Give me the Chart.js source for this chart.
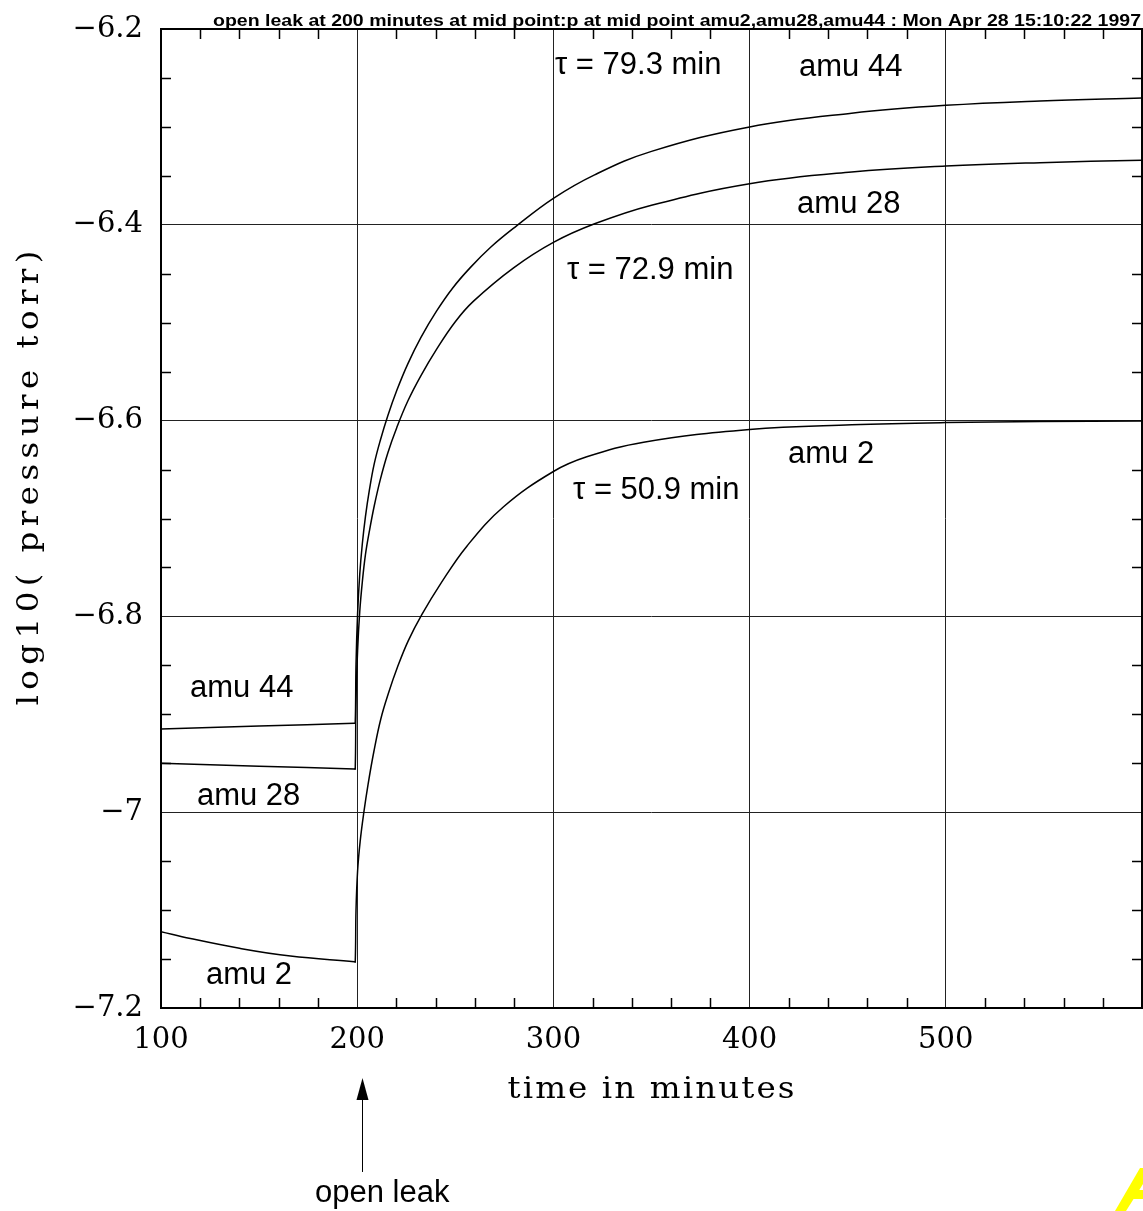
<!DOCTYPE html>
<html>
<head>
<meta charset="utf-8">
<title>open leak at 200 minutes</title>
<script src="https://cdn.jsdelivr.net/npm/chart.js@4.4.1/dist/chart.umd.min.js"></script>
<style>
  html, body { margin: 0; padding: 0; background: #fff; }
  canvas { display: block; }
</style>
</head>
<body>
<canvas id="leakChart" width="1143" height="1211"></canvas>
<script>
// log10(pressure / torr) against time, one pair of arrays per mass
const amu44Time = [100, 150, 198.5, 199, 199.4, 200.2, 201.3, 202.6, 204.2, 206.2, 208.7, 211.8, 215.6, 220.2, 225.8, 232.5, 240.5, 248.5, 257.5, 268, 279.4, 300, 321, 350, 400, 452, 500, 548, 600];
const amu44Log  = [-6.915, -6.912, -6.9092, -6.909, -6.849, -6.797, -6.757, -6.726, -6.698, -6.671, -6.644, -6.620, -6.595, -6.569, -6.542, -6.515, -6.488, -6.465, -6.444, -6.423, -6.404, -6.373, -6.349, -6.325, -6.300, -6.286, -6.278, -6.2735, -6.2705];

const amu28Time = [100, 150, 198.5, 199, 199.4, 200.2, 201.3, 202.6, 204.2, 206.2, 208.7, 211.8, 215.6, 220.2, 225.8, 232.5, 240.5, 250, 259.3, 279.7, 300, 321, 350, 400, 452, 500, 548, 600];
const amu28Log  = [-6.950, -6.953, -6.9558, -6.956, -6.885, -6.835, -6.795, -6.765, -6.737, -6.713, -6.687, -6.660, -6.633, -6.607, -6.580, -6.554, -6.527, -6.499, -6.478, -6.444, -6.418, -6.399, -6.380, -6.358, -6.346, -6.340, -6.3365, -6.334];

const amu2Time = [100, 115, 140, 166, 198.5, 199, 199.4, 200.2, 201.5, 203.4, 205.5, 208.5, 212, 216, 220.5, 226, 233, 242.4, 256, 274.6, 300, 317, 346, 400, 452, 500, 548, 600];
const amu2Log  = [-7.122, -7.129, -7.139, -7.147, -7.1528, -7.153, -7.10, -7.06, -7.03, -7.00, -6.972, -6.938, -6.905, -6.878, -6.852, -6.825, -6.798, -6.767, -6.728, -6.688, -6.652, -6.637, -6.622, -6.609, -6.6043, -6.602, -6.601, -6.6003];

// axis ticks and their printed labels
const xTicks = [100, 200, 300, 400, 500];
const xTickText = ["100", "200", "300", "400", "500"];
const yTicks = [-7.2, -7.0, -6.8, -6.6, -6.4, -6.2];
const yTickText = ["\u22127.2", "\u22127", "\u22126.8", "\u22126.6", "\u22126.4", "\u22126.2"];

// text written on the plot, placed in data units (minutes, log10 p)
const noteText = ["\u03c4 = 79.3 min", "amu 44", "amu 28", "\u03c4 = 72.9 min", "amu 2", "\u03c4 = 50.9 min", "amu 44", "amu 28", "amu 2", "open leak"];
const noteTime = [300.8, 425.2, 424.2, 306.9, 419.6, 310.0, 114.8, 118.3, 122.9, 178.5];
const noteLog  = [-6.237, -6.239, -6.379, -6.447, -6.635, -6.671, -6.874, -6.984, -7.167, -7.389];

const plotTitle = "open leak at 200 minutes at mid point:p at mid point amu2,amu28,amu44 : Mon Apr 28 15:10:22 1997";

const pairs = (xs, ys) => xs.map((x, i) => ({ x: x, y: ys[i] }));

const serif = "'DejaVu Serif', serif";
const sans = "'Liberation Sans', Arial, sans-serif";

// wide old plotter lettering: stretch the glyphs a bit, spread the rest
function spacedText(ctx, text, cx, cy, width) {
  ctx.letterSpacing = "0px";
  const natural = ctx.measureText(text).width;
  const kx = Math.min(1.12, width / natural);
  const gap = (width / kx - natural) / (text.length - 1);
  ctx.save();
  ctx.translate(cx - width / 2, cy);
  ctx.scale(kx, 1);
  ctx.letterSpacing = gap + "px";
  ctx.textAlign = "left";
  ctx.fillText(text, 0, 0);
  ctx.restore();
  ctx.letterSpacing = "0px";
}

const framePlugin = {
  id: "frame",
  beforeDraw(chart) {
    const ctx = chart.ctx;
    ctx.save();
    ctx.fillStyle = "#fff";
    ctx.fillRect(0, 0, chart.width, chart.height);
    ctx.restore();
  },
  afterDraw(chart) {
    const ctx = chart.ctx;
    const xs = chart.scales.x;
    const ys = chart.scales.y;
    const a = chart.chartArea;
    ctx.save();

    // inward minor ticks on all four sides
    ctx.strokeStyle = "#000";
    ctx.lineWidth = 1.5;
    ctx.beginPath();
    for (let t = 120; t < 600; t += 20) {
      if (t % 100 === 0) continue;
      const px = Math.round(xs.getPixelForValue(t)) + 0.5;
      ctx.moveTo(px, a.bottom); ctx.lineTo(px, a.bottom - 10);
      ctx.moveTo(px, a.top); ctx.lineTo(px, a.top + 10);
    }
    for (let k = 1; k < 20; k++) {
      if (k % 4 === 0) continue;
      const py = Math.round(ys.getPixelForValue(-7.2 + k * 0.05)) + 0.5;
      ctx.moveTo(a.left, py); ctx.lineTo(a.left + 10, py);
      ctx.moveTo(a.right, py); ctx.lineTo(a.right - 10, py);
    }
    ctx.stroke();

    // frame
    ctx.lineWidth = 2;
    ctx.strokeRect(a.left, a.top, a.right - a.left, a.bottom - a.top);

    // header line
    ctx.fillStyle = "#000";
    ctx.font = "bold 16px " + sans;
    ctx.textBaseline = "alphabetic";
    const w = ctx.measureText(plotTitle).width;
    ctx.save();
    ctx.translate(213, 26);
    ctx.scale(928 / w, 1.05);
    ctx.textAlign = "left";
    ctx.fillText(plotTitle, 0, 0);
    ctx.restore();

    // axis titles
    ctx.font = "29px " + serif;
    ctx.textBaseline = "middle";
    spacedText(ctx, "time in minutes", 651, 1090, 287);
    ctx.save();
    ctx.translate(30, 478);
    ctx.rotate(-Math.PI / 2);
    spacedText(ctx, "log10( pressure torr)", 0, 0, 455);
    ctx.restore();

    // notes
    ctx.font = "31px " + sans;
    ctx.textAlign = "left";
    ctx.textBaseline = "middle";
    noteText.forEach((txt, i) => {
      ctx.fillText(txt, xs.getPixelForValue(noteTime[i]), ys.getPixelForValue(noteLog[i]));
    });

    // arrow pointing at the leak opening
    const ax = Math.round(xs.getPixelForValue(202.5)) + 0.5;
    const tipY = ys.getPixelForValue(-7.2715);
    const tailY = ys.getPixelForValue(-7.3675);
    ctx.lineWidth = 1;
    ctx.beginPath();
    ctx.moveTo(ax, tailY); ctx.lineTo(ax, tipY + 18);
    ctx.stroke();
    ctx.beginPath();
    ctx.moveTo(ax, tipY);
    ctx.lineTo(ax - 6, tipY + 22);
    ctx.lineTo(ax + 6, tipY + 22);
    ctx.closePath();
    ctx.fill();

    // yellow stamp cut off in the corner
    ctx.fillStyle = "#ffff00";
    ctx.beginPath();
    ctx.moveTo(1115, 1211);
    ctx.lineTo(1140, 1168);
    ctx.lineTo(1143, 1168);
    ctx.lineTo(1143, 1184);
    ctx.lineTo(1126, 1211);
    ctx.closePath();
    ctx.fill();
    ctx.fillRect(1131, 1190, 12, 9);

    ctx.restore();
  }
};

new Chart(document.getElementById("leakChart"), {
  type: "line",
  data: {
    datasets: [
      { label: "amu 44", data: pairs(amu44Time, amu44Log) },
      { label: "amu 28", data: pairs(amu28Time, amu28Log) },
      { label: "amu 2", data: pairs(amu2Time, amu2Log) }
    ]
  },
  options: {
    responsive: false,
    animation: false,
    devicePixelRatio: 1,
    layout: { padding: { top: 29, right: 1, bottom: 0, left: 0 } },
    elements: {
      point: { radius: 0 },
      line: { borderColor: "#000", borderWidth: 1.5, tension: 0.4, fill: false }
    },
    plugins: {
      legend: { display: false },
      tooltip: { enabled: false },
      title: { display: false }
    },
    scales: {
      x: {
        type: "linear",
        min: 100,
        max: 600,
        afterFit: (s) => { s.height = 203; s.paddingLeft = 0; s.paddingRight = 0; },
        afterBuildTicks: (s) => { s.ticks = xTicks.map((v) => ({ value: v })); },
        ticks: {
          callback: (v, i) => xTickText[i],
          font: { family: serif, size: 29 },
          color: "#000",
          padding: 15,
          maxRotation: 0,
          autoSkip: false
        },
        grid: { color: "#222", lineWidth: 1, drawTicks: false },
        border: { display: false }
      },
      y: {
        type: "linear",
        min: -7.2,
        max: -6.2,
        afterFit: (s) => { s.width = 161; s.paddingTop = 0; s.paddingBottom = 0; },
        afterBuildTicks: (s) => { s.ticks = yTicks.map((v) => ({ value: v })); },
        ticks: {
          callback: (v, i) => yTickText[i],
          font: { family: serif, size: 29 },
          color: "#000",
          padding: 18,
          autoSkip: false
        },
        grid: { color: "#222", lineWidth: 1, drawTicks: false },
        border: { display: false }
      }
    }
  },
  plugins: [framePlugin]
});
</script>
</body>
</html>
